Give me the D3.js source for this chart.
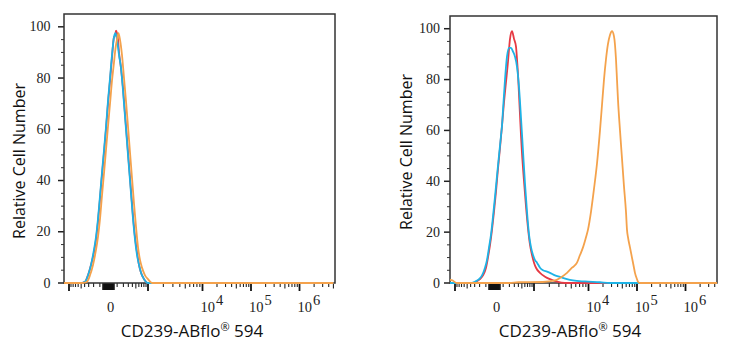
<!DOCTYPE html>
<html><head><meta charset="utf-8">
<script src="https://cdn.jsdelivr.net/npm/d3@7"></script>
<style>body{margin:0;background:#fff;} svg{display:block;}</style>
</head><body>
<svg id="c" width="733" height="350"></svg>
<script>
// ---------------- data ----------------
const yTickValues = [0, 20, 40, 60, 80, 100];
const xTickValues = [0, 1e4, 1e5, 1e6];
const xTickLabels = [["0", ""], ["10", "4"], ["10", "5"], ["10", "6"]];
const xMajorValues = [-1e3, 1e3, 1e4, 1e5, 1e6];
const yAxisTitle = "Relative Cell Number";
const xAxisTitle = ["CD239-ABflo", "®", " 594"];

// [fluorescence intensity, % of max]
const leftRed = [[-1500,0],[-537,0],[-390,0.5],[-315,3],[-250,7],[-193,12],[-158,17],[-127,24],[-98,33],[-72,42],[-47,51],[-25,60],[-5,70],[15,79],[36,88],[59,96],[72,96.5],[85,98.5],[98,97.5],[112,95],[127,90],[158,84],[193,76],[230,66],[271,56],[315,46],[364,36],[417,26],[474,18],[537,12],[607,7],[681,4],[808,1.5],[1000,0],[5e6,0]];
const leftCyan = [[-1500,0],[-537,0],[-390,0.5],[-315,3],[-250,7],[-193,13],[-158,18],[-127,25],[-98,34],[-72,43],[-47,52],[-25,61],[-5,71],[15,80],[36,89],[59,96],[78,97.5],[98,95],[127,89],[158,84],[193,75],[230,65],[271,55],[315,45],[364,35],[417,25],[474,17],[537,11],[607,7],[681,4],[808,1.5],[1000,0],[5e6,0]];
const leftOrange = [[-1500,0],[-474,0],[-339,0.5],[-271,3],[-211,7],[-158,13],[-127,18],[-98,25],[-72,34],[-47,43],[-25,52],[-5,61],[15,70],[36,79],[59,86],[72,90],[85,93],[98,95],[119,97.5],[142,95],[175,89],[211,80],[250,71],[293,61],[339,51],[390,41],[445,31],[505,22],[571,14],[643,9],[721,6],[852,3],[1000,1.5],[1208,0],[5e6,0]];

const rightRed = [[-1500,0],[-364,0],[-271,0.5],[-193,1.5],[-142,3],[-98,6],[-72,10],[-47,15],[-25,21],[-5,28],[15,36],[36,45],[59,53],[85,62],[112,71],[142,79],[175,87],[193,92],[211,96],[250,99],[293,96],[339,93],[364,88],[390,82],[417,74],[445,66],[474,58],[505,51],[571,40],[643,30],[721,21.5],[807,15],[899,11],[1000,8],[1099,6],[1322,4],[1654,2.5],[2057,1.5],[2772,0.5],[3868,0],[5e6,0]];
const rightCyan = [[-1500,0],[-364,0],[-293,0.5],[-211,1.5],[-158,3],[-112,6],[-85,9],[-59,14],[-36,19],[-15,26],[5,34],[25,42],[47,50],[72,58],[85,62],[98,68],[127,80],[158,89],[193,92.5],[230,92.5],[271,91],[315,89],[364,85],[417,77],[474,65],[537,52],[606,39],[681,28],[763,19],[852,14],[949,11],[1049,9],[1152,8],[1322,6],[1513,5],[1806,4.5],[2057,4],[2548,3],[3142,2.4],[4200,1.5],[5364,1],[8697,0.6],[17330,0.3],[27890,0],[5e6,0]];
const rightOrange = [[-1500,1.5],[-1150,1],[-900,0],[200,0],[400,0.3],[1500,0.4],[2548,1],[3142,2],[4200,4],[5152,6],[6308,8],[7115,11],[8028,14],[9050,18],[9801,21],[11270,28],[13010,37],[15030,47],[17330,60],[19070,70],[20970,80],[23060,88],[25360,94],[27890,97.5],[30670,99],[33710,97],[37050,88],[38850,80],[40740,72],[44780,60],[49210,49],[54090,38],[59450,28],[62310,21],[65320,18],[71780,14],[78890,10],[86700,6],[90900,4],[100000,1.5],[104700,0.5],[115200,0],[5e6,0]];

const seriesColors = {red: "#e63a44", cyan: "#1db3e6", orange: "#f4a24c"};

// ---------------- layout ----------------
const panels = [
  {x0: 64, x1: 335, top: 14, bottom: 283, series: [[leftRed, "red"], [leftCyan, "cyan"], [leftOrange, "orange"]],
   yLabelX: 25, yLabelY: 161, tickLabelEnd: 50.5, titleX: 192},
  {x0: 450, x1: 717, top: 16, bottom: 283, series: [[rightRed, "red"], [rightCyan, "cyan"], [rightOrange, "orange"]],
   yLabelX: 412, yLabelY: 152, tickLabelEnd: 440, titleX: 570}
];
const C = 220;
const anchorVals = [-1e3, 0, 1e3, 1e4, 1e5, 1e6];
const anchorOff = [5, 44.5, 84, 138.5, 187, 235.5];

const svg = d3.select("#c");
const serif = "'Liberation Serif', 'Times New Roman', serif";
const sans = "'Open Sans', 'Noto Sans', sans-serif";

panels.forEach((p, i) => {
  const sym = d3.scaleSymlog().constant(C).domain([-1e3, 1e6]).range([0, 1]);
  const lin = d3.scaleLinear().domain(anchorVals.map(sym)).range(anchorOff.map(o => p.x0 + o));
  const x = v => lin(sym(v));
  const y = d3.scaleLinear().domain([0, 105]).range([p.bottom, p.top]);
  const g = svg.append("g");

  // y ticks
  const yMinor = d3.range(0, 105, 5).filter(v => v % 20 !== 0);
  g.selectAll(".ymin").data(yMinor).join("line")
    .attr("x1", p.x0 - 3).attr("x2", p.x0).attr("y1", d => y(d)).attr("y2", d => y(d))
    .attr("stroke", "#333").attr("stroke-width", 1);
  g.selectAll(".ymaj").data(yTickValues).join("line")
    .attr("x1", p.x0 - 6).attr("x2", p.x0).attr("y1", d => y(d)).attr("y2", d => y(d))
    .attr("stroke", "#222").attr("stroke-width", 1.5);
  g.selectAll(".ylab").data(yTickValues).join("text")
    .attr("x", p.tickLabelEnd).attr("y", d => y(d) + 4.6)
    .attr("text-anchor", "end").attr("font-family", serif).attr("font-size", 14)
    .attr("fill", "#222").text(d => d);

  // x ticks
  const xMinor = [];
  for (let k = 1; k <= 9; k++) { if (k !== 5) { xMinor.push(-k * 100); xMinor.push(k * 100); } }
  [1e3, 1e4, 1e5, 1e6].forEach(b => { for (let k = 2; k <= 9; k++) if (k !== 5) xMinor.push(k * b); });
  const xMid = [-500, 500, 5e3, 5e4, 5e5, 5e6];
  const xCluster = d3.range(-60, 61, 10);
  const inside = v => x(v) >= p.x0 && x(v) <= p.x1;
  g.selectAll(".xmin").data(xMinor.filter(inside)).join("line")
    .attr("x1", d => x(d)).attr("x2", d => x(d)).attr("y1", p.bottom).attr("y2", p.bottom + 4)
    .attr("stroke", "#222").attr("stroke-width", 1.1);
  g.selectAll(".xmid").data(xMid.filter(inside)).join("line")
    .attr("x1", d => x(d)).attr("x2", d => x(d)).attr("y1", p.bottom).attr("y2", p.bottom + 5.5)
    .attr("stroke", "#222").attr("stroke-width", 1.1);
  g.selectAll(".xcl").data(xCluster).join("line")
    .attr("x1", d => x(d)).attr("x2", d => x(d)).attr("y1", p.bottom).attr("y2", p.bottom + 7)
    .attr("stroke", "#111").attr("stroke-width", 1.4);
  g.selectAll(".xmaj").data(xMajorValues).join("line")
    .attr("x1", d => x(d)).attr("x2", d => x(d)).attr("y1", p.bottom).attr("y2", p.bottom + 8)
    .attr("stroke", "#111").attr("stroke-width", 1.8);

  const lab = g.selectAll(".xlab").data(xTickValues).join("text")
    .attr("font-family", serif).attr("font-size", 14.5).attr("fill", "#222")
    .attr("x", (d, j) => j === 0 ? x(d) + 2 : x(d) - 2)
    .attr("y", 312)
    .attr("text-anchor", (d, j) => j === 0 ? "middle" : "start");
  lab.append("tspan").text((d, j) => xTickLabels[j][0]);
  lab.append("tspan").attr("dy", -7).attr("dx", 1).text((d, j) => xTickLabels[j][1]);

  // frame
  g.append("rect").attr("x", p.x0).attr("y", p.top).attr("width", p.x1 - p.x0).attr("height", p.bottom - p.top)
    .attr("fill", "none").attr("stroke", "#333").attr("stroke-width", 1.5);

  // curves
  const clipId = "clip" + i;
  svg.append("clipPath").attr("id", clipId).append("rect")
    .attr("x", p.x0).attr("y", p.top).attr("width", p.x1 - p.x0).attr("height", p.bottom - p.top + 1);
  const line = d3.line().x(d => x(d[0])).y(d => y(d[1])).curve(d3.curveMonotoneX);
  const cg = svg.append("g").attr("clip-path", `url(#${clipId})`);
  cg.selectAll("path").data(p.series).join("path")
    .attr("d", d => line(d[0])).attr("fill", "none")
    .attr("stroke", d => seriesColors[d[1]]).attr("stroke-width", 1.8)
    .attr("stroke-linejoin", "round");

  // axis titles
  svg.append("text").attr("transform", `translate(${p.yLabelX},${p.yLabelY}) rotate(-90)`)
    .attr("text-anchor", "middle").attr("font-family", sans).attr("font-size", 16).attr("fill", "#111")
    .text(yAxisTitle);
  const t = svg.append("text").attr("x", p.titleX).attr("y", 337).attr("text-anchor", "middle")
    .attr("font-family", sans).attr("font-size", 17).attr("fill", "#111");
  t.append("tspan").text(xAxisTitle[0]);
  t.append("tspan").attr("font-size", 11).attr("dy", -6).text(xAxisTitle[1]);
  t.append("tspan").attr("dy", 6).text(xAxisTitle[2]);
});
</script>
</body></html>
